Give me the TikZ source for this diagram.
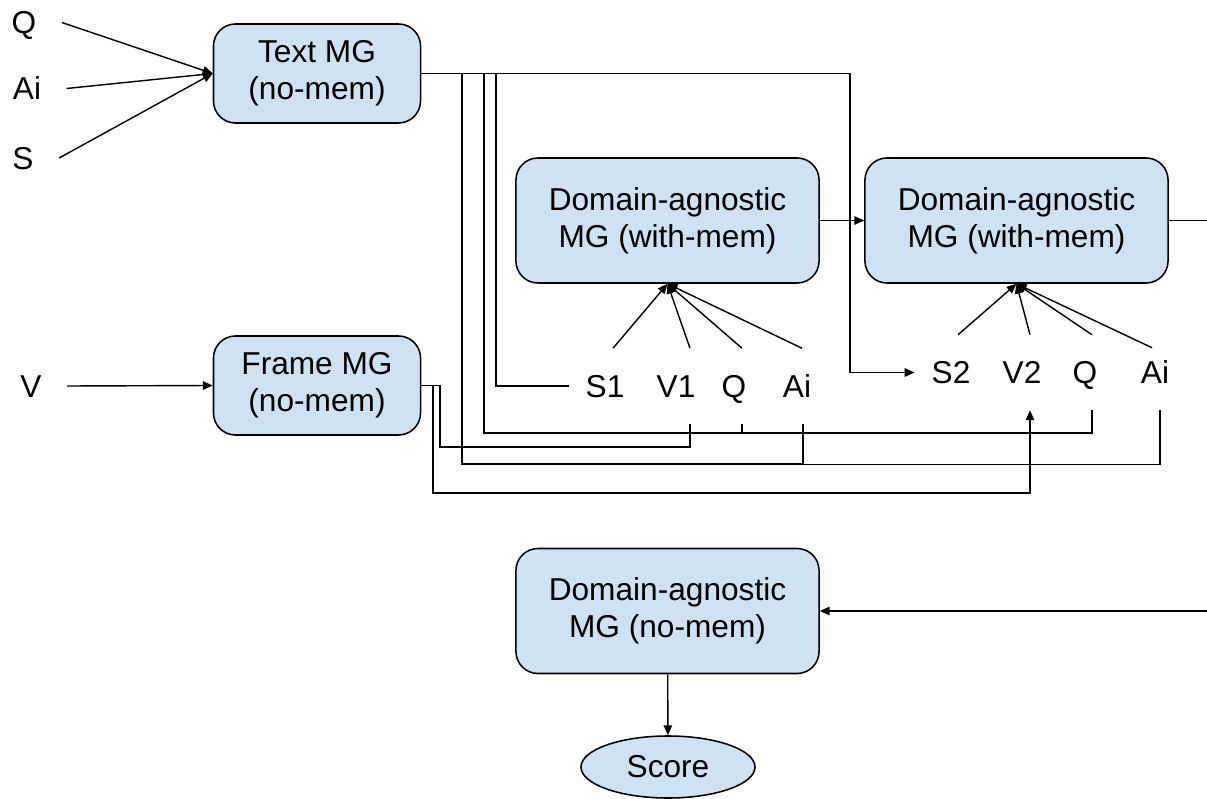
\documentclass[tikz,border=0pt]{standalone}
\usepackage{fontspec}
\setmainfont{Liberation Sans}
\usepackage{tikz}
\usetikzlibrary{arrows.meta, calc, shapes.geometric}
\usepackage{xcolor}
\definecolor{mgblue}{RGB}{207,226,243}
\newcommand{\mgfont}{\fontsize{22.5}{26.5}\selectfont}

\begin{document}
\begin{tikzpicture}[x=0.025cm, y=-0.025cm,
      mg/.style={rectangle, draw, line width=1.1pt, rounded corners=0.55cm, fill=mgblue,
                 align=center, font=\mgfont, inner sep=0pt},
      small/.style={mg, minimum width=5.175cm, minimum height=2.475cm},
      big/.style={mg, minimum width=7.575cm, minimum height=3.125cm},
      score/.style={ellipse, draw, line width=1.1pt, fill=mgblue, font=\mgfont,
                    minimum width=4.35cm, minimum height=1.55cm, inner sep=0pt},
      lbl/.style={font=\mgfont, inner xsep=12pt, inner ysep=18.5pt, text height=16.3pt, text depth=0pt},
      inp/.style={font=\mgfont, inner xsep=18pt, inner ysep=0pt, text height=16.3pt, text depth=0pt},
      wire/.style={line width=1pt},
      arr/.style={-{Triangle[length=7pt, width=6pt]}, line width=1pt}
    ]
    \useasboundingbox (0,0) rectangle (1207,799);
    \clip (0,0) rectangle (1207,799);

    % encoders
    \node[small] (tmg) at (317,73.5) {Text MG\\(no-mem)};
    \node[small] (fmg) at (317,385.5) {Frame MG\\(no-mem)};
    \node[inp] (q0) at (24,22.5) {Q};
    \node[inp] (a0) at (27,88.5) {Ai};
    \node[inp] (s0) at (23,158) {S};
    \node[inp] (v0) at (31,386) {V};

    % memory steps
    \node[big] (da1) at (667.5,220.5) {Domain-agnostic\\MG (with-mem)};
    \node[big] (da2) at (1016.5,220.5) {Domain-agnostic\\MG (with-mem)};
    \node[big] (da3) at (667.5,611) {Domain-agnostic\\MG (no-mem)};
    \node[score] (sc) at (668,767) {Score};

    \node[lbl] (s1) at (605,386) {S1};
    \node[lbl] (v1) at (676,386) {V1};
    \node[lbl] (q1) at (734,386) {Q};
    \node[lbl] (a1) at (797,386) {Ai};
    \node[lbl] (s2) at (951,372.5) {S2};
    \node[lbl] (v2) at (1022,372.5) {V2};
    \node[lbl] (q2) at (1085,372.5) {Q};
    \node[lbl] (a2) at (1155,372.5) {Ai};

    \foreach \n in {q0,a0,s0}
      \draw[arr] (\n.east) -- (tmg.west);
    \draw[arr] (v0.east) -- (fmg.west);

    \draw[arr] ($(s1.north)+(8,0)$) -- (da1.south);
    \draw[arr] ($(v1.north)+(14,0)$) -- (da1.south);
    \draw[arr] ($(q1.north)+(8,0)$) -- (da1.south);
    \draw[arr] ($(a1.north)+(5,0)$) -- (da1.south);
    \draw[arr] ($(s2.north)+(7,0)$) -- (da2.south);
    \draw[arr] ($(v2.north)+(8,0)$) -- (da2.south);
    \draw[arr] ($(q2.north)+(7,0)$) -- (da2.south);
    \draw[arr] ($(a2.north)+(-3,13)$) -- (da2.south);

    % text features
    \draw[arr] (tmg.east) -| (850,372.5) -- (s2.west);
    \draw[wire] (tmg.east) -- (496,73.5) |- (s1.west);
    \draw[wire] (tmg.east) -- (484,73.5) -- (484,433) -| ($(q2.south)+(7,0)$);
    \draw[wire] ($(q1.south)+(8,0)$) -- ++(0,10);
    \draw[wire] (tmg.east) -- (462,73.5) -- (462,464) -| ($(a1.south)+(6,0)$);
    \draw[wire] ($(a1.south)+(6,0)$) |- ($(a2.south)+(5,54)$) -- ($(a2.south)+(5,0)$);

    % frame features
    \draw[wire] (fmg.east) -| (440,447) -| ($(v1.south)+(14,0)$);
    \draw[arr] (fmg.east) -| (433,493) -| ($(v2.south)+(8,0)$);

    \draw[arr] (da1) -- (da2);
    \draw[arr] (da2.east) -- (1240,220.5) |- (da3.east);
    \draw[arr] (da3) -- (sc);
  \end{tikzpicture}
\end{document}
